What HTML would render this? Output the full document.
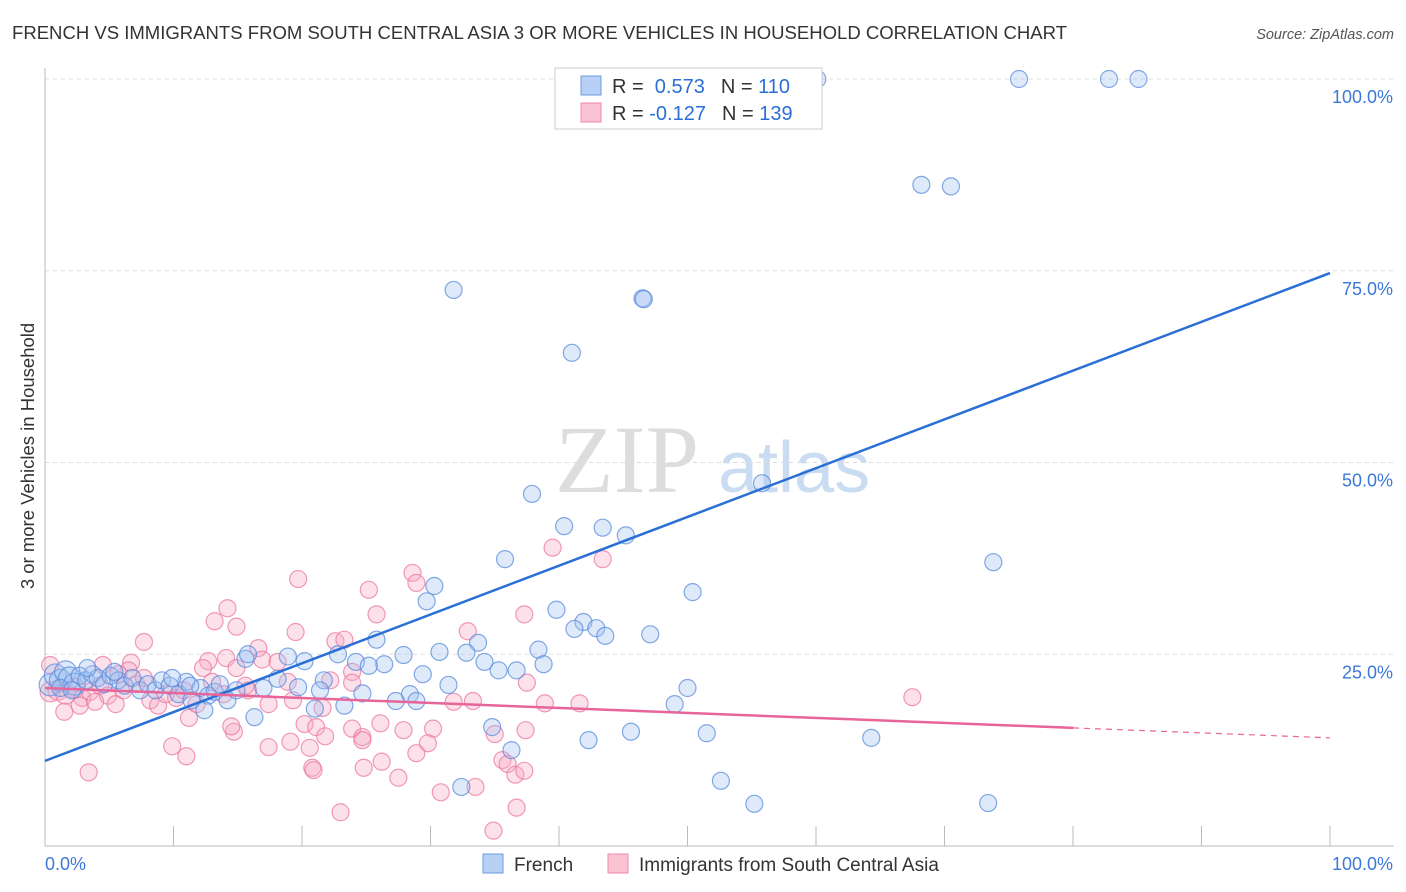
<!DOCTYPE html>
<html><head><meta charset="utf-8"><style>
body{margin:0;background:#fff;font-family:"Liberation Sans",sans-serif;}
#wrap{position:relative;width:1406px;height:892px;overflow:hidden;}
</style></head><body>
<div id="wrap">
<svg id="chart" width="1406" height="892">
<text x="12" y="39" font-size="18" fill="#333" textLength="1055" lengthAdjust="spacingAndGlyphs">FRENCH VS IMMIGRANTS FROM SOUTH CENTRAL ASIA 3 OR MORE VEHICLES IN HOUSEHOLD CORRELATION CHART</text>
<text x="1394" y="39" font-size="14.5" fill="#555" font-style="italic" text-anchor="end">Source: ZipAtlas.com</text>
<text x="555" y="492" font-size="96" fill="#ddd" font-family="Liberation Serif,serif">ZIP</text>
<text x="718" y="492" font-size="72" fill="#c9dcf2">atlas</text>
<g id="grid"></g><g id="axes"></g><g id="pts"></g><g id="lines"></g>
<text transform="translate(34,456) rotate(-90)" font-size="18.5" fill="#333" text-anchor="middle">3 or more Vehicles in Household</text>
<g>
<rect x="555" y="68" width="267" height="61" fill="#fff" stroke="#ccc"/>
<rect x="581" y="76" width="20" height="19" fill="#b8d0f5" stroke="#6b9be0"/>
<rect x="581" y="103" width="20" height="19" fill="#fac3d3" stroke="#f08aaa"/>
<text x="612" y="93" font-size="20" fill="#333">R = <tspan fill="#2a6fd6">&#160;0.573</tspan><tspan dx="16" fill="#333">N = </tspan><tspan fill="#2a6fd6">110</tspan></text>
<text x="612" y="120" font-size="20" fill="#333">R = <tspan fill="#2a6fd6">-0.127</tspan><tspan dx="16" fill="#333">N = </tspan><tspan fill="#2a6fd6">139</tspan></text>
</g>
<g>
<rect x="483" y="854" width="20" height="19" fill="#b8d0f5" stroke="#6b9be0"/>
<text x="514" y="871" font-size="19" fill="#333">French</text>
<rect x="608" y="854" width="20" height="19" fill="#fac3d3" stroke="#f08aaa"/>
<text x="639" y="871" font-size="19" fill="#333">Immigrants from South Central Asia</text>
</g>
</svg>
</div>
<script>
const blueX=[60.1,75.8,82.8,85.1,68.2,70.5,31.8,46.5,46.6,41,37.9,55.8,40.4,43.4,45.2,73.8,35.8,30.3,29.7,50.4,39.8,41.9,41.2,42.9,43.6,47.1,25.8,33.7,38.4,32.8,27.9,30.7,22.8,24.2,26.4,25.2,34.2,35.3,36.7,38.8,29.4,50,49,31.4,34.8,42.3,45.6,51.5,64.3,36.3,52.6,55.2,73.4,32.4,15.6,15.8,18.9,20.2,21.7,19.7,18.1,17,21.4,24.7,28.4,28.9,27.3,23.3,21,16.3,0.4,0.8,1.2,1.6,1.9,2.3,2.7,3.2,3.7,4.1,4.6,5.1,5.7,6.2,6.8,7.4,8,8.6,9.1,9.7,10.4,11,11.4,12.1,12.7,13.2,13.6,14.2,14.9,12.4,11.3,9.9,1.2,2.1,3.3,5.4];
const blueY=[100,100,100,100,86.2,86,72.5,71.4,71.3,64.3,45.9,47.3,41.7,41.5,40.5,37,37.4,33.9,31.9,33.1,30.8,29.2,28.3,28.4,27.4,27.6,26.9,26.5,25.6,25.2,24.9,25.3,25,24,23.7,23.5,24,22.9,22.9,23.7,22.4,20.6,18.5,21,15.5,13.8,14.9,14.7,14.1,12.5,8.5,5.5,5.6,7.7,24.4,25,24.7,24.1,21.6,20.7,21.8,20.6,20.3,19.9,19.8,18.9,18.9,18.3,17.9,16.8,21,22.3,21.6,22.7,21.9,21.1,22.2,21.6,22.4,21.9,21.1,22.2,21.6,20.9,21.9,20.3,21.1,20.3,21.6,20.9,19.8,21.4,19,20.6,19.6,20.1,21.1,19,20.3,17.7,20.9,21.9,20.6,20.3,23.2,22.7];
const pinkX=[39.5,43.4,28.6,28.9,19.7,25.2,14.2,25.8,37.3,13.2,14.9,32.9,19.5,7.7,22.6,23.3,16.6,16.9,12.7,12.3,6.7,6.5,4.5,0.4,14.1,14.9,18.1,37.5,23.9,22.2,23.9,33.3,31.8,38.9,41.6,67.5,18.9,17.4,15.8,19.3,21.6,26.1,30.2,35,37.4,20.2,21.1,23.9,24.7,21.8,19.1,27.9,24.7,29.8,28.9,26.2,20.6,17.4,9.9,11,14.7,11.2,14.5,20.8,20.9,24.8,27.5,30.8,33.5,35.6,36,36.6,37.3,36.7,34.9,23,3.4,1.5,0.4,1,1.6,2.3,2.9,3.5,4.3,4.9,5.5,6.1,7.1,8.2,8.8,9.4,10.2,10.8,11.8,13,13.9,15.6,5.7,7.7,2.7,3.9];
const pinkY=[38.9,37.4,35.6,34.3,34.8,33.4,31,30.2,30.2,29.3,28.6,28,27.9,26.6,26.7,26.9,25.8,24.3,24.1,23.2,23.9,22.9,23.6,23.6,24.5,23.2,24,21.3,22.7,21.6,21.3,18.9,18.8,18.6,18.6,19.4,21.4,18.5,20.3,19,18,16,15.3,14.6,15.1,15.9,15.5,15.3,14.2,14.3,13.6,15.1,13.8,13.4,12.1,11,12.8,12.9,13,11.7,14.9,16.7,15.6,10.2,9.9,10.2,8.9,7,7.7,11.2,10.7,9.3,9.8,5,2,4.4,9.6,17.5,20.1,20.3,19.8,20.6,19.3,20.1,20.9,19.6,18.5,20.3,21.1,19,18.3,19.8,19.3,20.3,18.5,21.4,19.8,20.9,22.4,21.9,18.3,18.8];
const blueFit=[11.1,74.7];
const pinkFit=[20.6,14.1];
const yTicks=[25,50,75,100];
const yTickLabels=["25.0%","50.0%","75.0%","100.0%"];
const xTicks=[0,10,20,30,40,50,60,70,80,90,100];

const NS="http://www.w3.org/2000/svg";
const X=v=>45+v*12.85;
const Y=v=>846-v*7.67;
function mk(tag,attrs,parent){const e=document.createElementNS(NS,tag);for(const k in attrs)e.setAttribute(k,attrs[k]);document.getElementById(parent).appendChild(e);return e;}
yTicks.forEach((t,i)=>{
  const l=mk('line',{x1:45,x2:1394,y1:Y(t),y2:Y(t),stroke:'#ddd','stroke-dasharray':'4,4'},'grid');
  
  
  const tx=mk('text',{x:1393,y:Y(t)+24,'font-size':18,fill:'#3c78d8','text-anchor':'end'},'grid');
  tx.textContent=yTickLabels[i];
  
  
});
const ya=mk('line',{x1:45,x2:45,y1:68,y2:846,stroke:'#bbb'},'axes');


const xa=mk('line',{x1:45,x2:1394,y1:846,y2:846,stroke:'#bbb'},'axes');


xTicks.forEach(t=>{
  const l=mk('line',{x1:X(t),x2:X(t),y1:826,y2:846,stroke:'#bbb'},'axes');
  
  
});
const x0=mk('text',{x:45,y:870,'font-size':18,fill:'#3c78d8'},'axes');x0.textContent='0.0%';


const x1=mk('text',{x:1393,y:870,'font-size':18,fill:'#3c78d8','text-anchor':'end'},'axes');x1.textContent='100.0%';


pinkX.forEach((v,i)=>{
  const c=mk('circle',{cx:X(v),cy:Y(pinkY[i]),r:i>=78&&i<82?10:8.5,fill:'rgba(246,168,194,0.35)',stroke:'rgba(236,120,160,0.75)','stroke-width':1.2},'pts');
  
  
});
blueX.forEach((v,i)=>{
  const c=mk('circle',{cx:X(v),cy:Y(blueY[i]),r:i>=70&&i<76?11:8.5,fill:'rgba(160,192,240,0.35)',stroke:'rgba(90,140,220,0.75)','stroke-width':1.2},'pts');
  
  
});
const bl=mk('line',{x1:X(0),y1:Y(blueFit[0]),x2:X(100),y2:Y(blueFit[1]),stroke:'#2a6fd6','stroke-width':2.5},'lines');


const pm=pinkFit[0]+(pinkFit[1]-pinkFit[0])*0.8;
const pl=mk('line',{x1:X(0),y1:Y(pinkFit[0]),x2:X(80),y2:Y(pm),stroke:'#e8659a','stroke-width':2.5},'lines');


const pd=mk('line',{x1:X(80),y1:Y(pm),x2:X(100),y2:Y(pinkFit[1]),stroke:'#e8659a','stroke-width':1.2,'stroke-dasharray':'6,5'},'lines');


</script>
</body></html>
